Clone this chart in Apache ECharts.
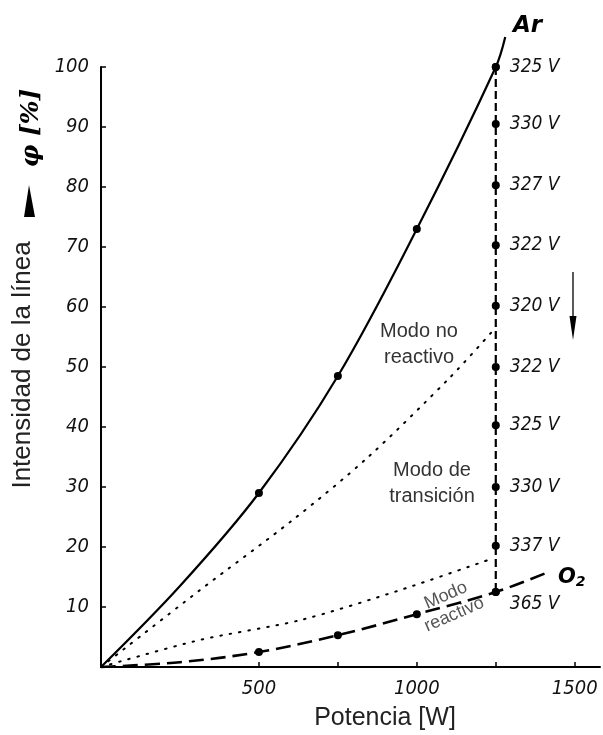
<!DOCTYPE html>
<html>
<head>
<meta charset="utf-8">
<script src="https://cdn.jsdelivr.net/npm/echarts@6/dist/echarts.min.js"></script>
<style>
  html, body { margin: 0; padding: 0; background: #fff; }
  #chart { width: 603px; height: 735px; }
</style>
</head>
<body>
<div id="chart"></div>
<script>
// Argon line intensity (solid) and O2 (dashed) versus power
const arPower     = [0, 250, 500, 750, 1000, 1250, 1280];
const arIntensity = [0, 13.5, 29, 48.5, 73, 100, 105];
const arMeasured  = [false, false, true, true, true, true, false];

const o2Power     = [0, 250, 500, 750, 1000, 1250, 1415];
const o2Intensity = [0, 0.8, 2.5, 5.3, 8.8, 12.5, 15.8];
const o2Measured  = [false, false, true, true, true, true, false];

// Transition at constant power: intensity drops while cathode voltage changes
const transPower     = 1250;
const transIntensity = [100, 90.5, 80.3, 70.3, 60.2, 50, 40.3, 30, 20.2, 12.5];
const transVoltage   = [325, 330, 327, 322, 320, 322, 325, 330, 337, 365];

// Dotted guide curves bounding the transition region
const upperDotPower     = [0, 313, 607, 842, 1104, 1240];
const upperDotIntensity = [0, 12.8, 24.5, 34.8, 48.2, 56];
const lowerDotPower     = [0, 313, 630, 946, 1235];
const lowerDotIntensity = [0, 4.5, 7.8, 12.8, 18];

// Axis ticks and labels
const xTicks  = [500, 750, 1000, 1250, 1500];
const xLabels = [500, 1000, 1500];
const yTicks  = [10, 20, 30, 40, 50, 60, 70, 80, 90, 100];

const zip = (xs, ys) => xs.map((x, i) => [x, ys[i]]);

const tickFont = {
  fontFamily: "'DejaVu Sans Condensed', 'DejaVu Sans', sans-serif",
  fontStyle: 'italic',
  fontSize: 20,
  color: '#111',
  formatter: v => String(v)
};

const chart = echarts.init(document.getElementById('chart'), null, { renderer: 'canvas' });

chart.setOption({
  animation: false,
  backgroundColor: '#fff',
  grid: { left: 101, top: 67, right: 3, bottom: 68 },
  xAxis: {
    type: 'value', min: 0, max: 1580,
    splitLine: { show: false },
    axisLine: { show: true, onZero: false, lineStyle: { color: '#000', width: 2 } },
    axisTick: { show: true, inside: true, length: 5, customValues: xTicks, lineStyle: { color: '#000', width: 1.5 } },
    axisLabel: Object.assign({ customValues: xLabels, margin: 12 }, tickFont)
  },
  yAxis: {
    type: 'value', min: 0, max: 100, interval: 10,
    splitLine: { show: false },
    axisLine: { show: true, onZero: false, lineStyle: { color: '#000', width: 2 } },
    axisTick: { show: true, inside: true, length: 5, customValues: yTicks, lineStyle: { color: '#000', width: 1.5 } },
    axisLabel: Object.assign({ customValues: yTicks, margin: 12 }, tickFont)
  },
  series: [
    {
      name: 'Ar', type: 'line', smooth: 0.35, clip: false,
      data: zip(arPower, arIntensity),
      symbol: 'circle',
      symbolSize: (v, p) => arMeasured[p.dataIndex] ? 8 : 0,
      itemStyle: { color: '#000' },
      lineStyle: { color: '#000', width: 2.2 },
      z: 3
    },
    {
      name: 'O2', type: 'line', smooth: 0.35, clip: false,
      data: zip(o2Power, o2Intensity),
      symbol: 'circle',
      symbolSize: (v, p) => o2Measured[p.dataIndex] ? 8 : 0,
      itemStyle: { color: '#000' },
      lineStyle: { color: '#000', width: 2.6, type: [15, 7] },
      z: 3
    },
    {
      name: 'transición', type: 'line', clip: false,
      data: transIntensity.map((y, i) => [transPower, y, transVoltage[i]]),
      symbol: 'circle', symbolSize: 8,
      itemStyle: { color: '#000' },
      lineStyle: { color: '#000', width: 2.2, type: [8, 4] },
      label: {
        show: true, position: 'right', distance: 10,
        formatter: p => p.value[2] + ' V',
        fontFamily: "'DejaVu Sans Condensed', 'DejaVu Sans', sans-serif",
        fontStyle: 'italic', fontSize: 19, color: '#111'
      },
      labelLayout: p => p.dataIndex === transIntensity.length - 1 ? { dy: 12 } : {},
      z: 4
    },
    {
      name: 'no reactivo', type: 'line', smooth: 0.3,
      data: zip(upperDotPower, upperDotIntensity),
      symbol: 'none',
      lineStyle: { color: '#000', width: 2, type: [1.5, 8], cap: 'round' },
      z: 2
    },
    {
      name: 'reactivo', type: 'line', smooth: 0.3,
      data: zip(lowerDotPower, lowerDotIntensity),
      symbol: 'none',
      lineStyle: { color: '#000', width: 2, type: [1.5, 8], cap: 'round' },
      z: 2
    }
  ],
  graphic: [
    // y-axis title
    {
      type: 'text', x: 23, y: 365, rotation: Math.PI / 2,
      style: {
        text: 'Intensidad de la línea',
        font: "26px 'Liberation Sans', Arial, sans-serif",
        fill: '#222', align: 'center', verticalAlign: 'middle'
      }
    },
    {
      type: 'polygon',
      shape: { points: [[29, 185], [24, 217], [35, 217]] },
      style: { fill: '#000' }
    },
    {
      type: 'text', x: 31, y: 128, rotation: Math.PI / 2,
      style: {
        text: 'φ [%]',
        font: "italic bold 25px 'DejaVu Serif', serif",
        fill: '#000', align: 'center', verticalAlign: 'middle'
      }
    },
    // x-axis title
    {
      type: 'text', x: 385, y: 718,
      style: {
        text: 'Potencia [W]',
        font: "25px 'Liberation Sans', Arial, sans-serif",
        fill: '#222', align: 'center', verticalAlign: 'middle'
      }
    },
    // curve names
    {
      type: 'text', x: 513, y: 26,
      style: {
        text: 'Ar',
        font: "italic bold 23px 'DejaVu Sans', sans-serif",
        fill: '#000', align: 'left', verticalAlign: 'middle'
      }
    },
    {
      type: 'text', x: 558, y: 578,
      style: {
        text: '{o|O}{s|2}',
        rich: {
          o: { font: "italic bold 21px 'DejaVu Sans', sans-serif", fill: '#000' },
          s: { font: "italic bold 14px 'DejaVu Sans', sans-serif", fill: '#000', padding: [8, 0, 0, 0] }
        },
        align: 'left', verticalAlign: 'middle'
      }
    },
    // operating modes
    {
      type: 'text', x: 419, y: 344,
      style: {
        text: 'Modo no\nreactivo', lineHeight: 26,
        font: "20px 'Liberation Sans', Arial, sans-serif",
        fill: '#333', align: 'center', verticalAlign: 'middle'
      }
    },
    {
      type: 'text', x: 432, y: 483,
      style: {
        text: 'Modo de\ntransición', lineHeight: 26,
        font: "20px 'Liberation Sans', Arial, sans-serif",
        fill: '#333', align: 'center', verticalAlign: 'middle'
      }
    },
    {
      type: 'text', x: 450, y: 605, rotation: 0.41,
      style: {
        text: 'Modo\nreactivo', lineHeight: 21,
        font: "18px 'Liberation Sans', Arial, sans-serif",
        fill: '#555', align: 'center', verticalAlign: 'middle'
      }
    },
    // direction of the transition
    {
      type: 'line',
      shape: { x1: 573, y1: 272, x2: 573, y2: 322 },
      style: { stroke: '#000', lineWidth: 1.3 }
    },
    {
      type: 'polygon',
      shape: { points: [[569.5, 316], [576.5, 316], [573, 340]] },
      style: { fill: '#000' }
    }
  ]
});
</script>
</body>
</html>
